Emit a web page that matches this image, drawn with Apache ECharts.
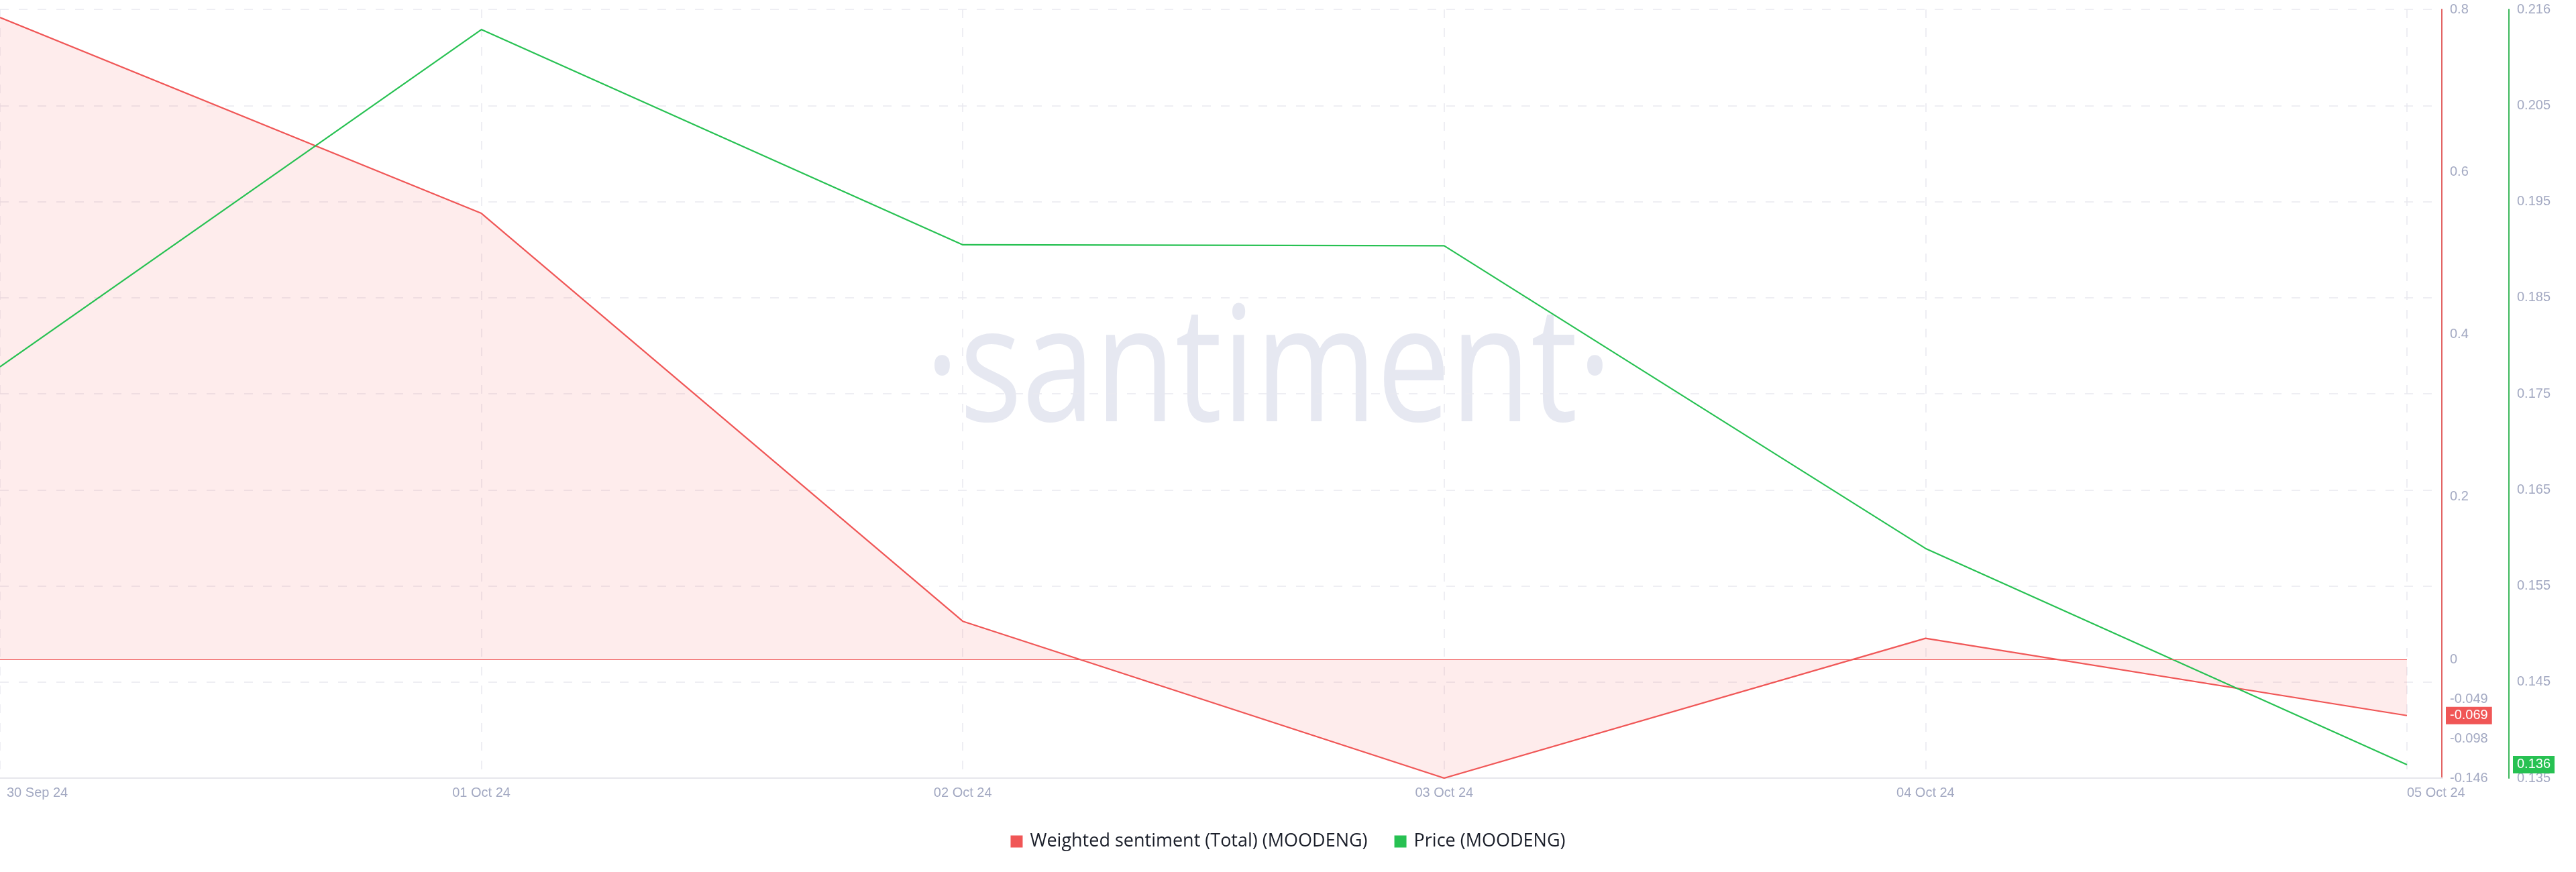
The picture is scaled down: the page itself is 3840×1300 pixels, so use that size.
<!DOCTYPE html>
<html>
<head>
<meta charset="utf-8">
<script src="https://cdn.jsdelivr.net/npm/echarts@6/dist/echarts.min.js"></script>
<style>
  html, body { margin: 0; padding: 0; background: #ffffff; }
  #chart { width: 3840px; height: 1300px; }
</style>
</head>
<body>
<div id="chart"></div>
<script>
const dates = ['30 Sep 24', '01 Oct 24', '02 Oct 24', '03 Oct 24', '04 Oct 24', '05 Oct 24'];
const sentiment = [0.79, 0.549, 0.047, -0.146, 0.026, -0.069];
const price = [0.1778, 0.2129, 0.1905, 0.1904, 0.1589, 0.1364];
const sentimentTicks = [-0.146, -0.098, -0.049, 0, 0.2, 0.4, 0.6, 0.8];
const priceTicks = [0.135, 0.145, 0.155, 0.165, 0.175, 0.185, 0.195, 0.205, 0.215];
const priceTickLabels = ['0.135', '0.145', '0.155', '0.165', '0.175', '0.185', '0.195', '0.205', '0.216'];
const seriesNames = ['Weighted sentiment (Total) (MOODENG)', 'Price (MOODENG)'];

const RED = '#f05656';
const GREEN = '#27c152';
const LABEL = '#a3a9c2';
const FONT = '"Liberation Sans", Arial, sans-serif';

const chart = echarts.init(document.getElementById('chart'), null, { renderer: 'canvas' });

const xIdx = dates.map((d, i) => i);
const sentData = sentiment.map((v, i) => [xIdx[i], v]);
const priceData = price.map((v, i) => [xIdx[i], v]);
const last = dates.length - 1;

chart.setOption({
  animation: false,
  backgroundColor: '#ffffff',
  graphic: [{
    type: 'text',
    x: 1891,
    y: 560,
    scaleX: 0.815,
    silent: true,
    z: -10,
    style: {
      text: '·santiment·',
      font: '500 240px "Open Sans"',
      fill: '#e6e8f1',
      align: 'center',
      verticalAlign: 'middle'
    }
  }],
  legend: {
    data: seriesNames,
    left: 'center',
    top: 1236,
    icon: 'rect',
    itemWidth: 18,
    itemHeight: 18,
    itemGap: 40,
    textStyle: { fontSize: 27, color: '#1b1f2a', fontFamily: '"Open Sans"', padding: [0, 0, 0, 6] }
  },
  grid: {
    left: 0, right: 200, top: 14, bottom: 140,
    containLabel: false,
    outerBoundsMode: 'none'
  },
  xAxis: {
    type: 'value',
    min: 0,
    max: 5.0725,
    axisLine: { show: true, onZero: false, lineStyle: { color: '#e6e6ec', width: 2 } },
    axisTick: { show: false, customValues: xIdx },
    splitLine: { show: true, lineStyle: { color: '#e9e9ef', width: 1.5, type: [13, 15] } },
    axisLabel: {
      customValues: xIdx,
      color: LABEL,
      fontSize: 20,
      fontFamily: FONT,
      margin: 12,
      alignMinLabel: 'left',
      alignMaxLabel: 'left',
      formatter: function (v) {
        const i = Math.round(v);
        return i === 0 ? '{first|' + dates[i] + '}' : dates[i];
      },
      rich: {
        first: { padding: [0, 0, 0, 10], color: LABEL, fontSize: 20, fontFamily: FONT }
      }
    }
  },
  yAxis: [{
    type: 'value',
    position: 'right',
    offset: 0,
    min: sentimentTicks[0],
    max: sentimentTicks[sentimentTicks.length - 1],
    axisLine: { show: true, onZero: false, lineStyle: { color: '#e36464', width: 2 } },
    axisTick: { show: false, customValues: sentimentTicks },
    splitLine: { show: false },
    axisLabel: {
      customValues: sentimentTicks,
      color: LABEL, fontSize: 20, fontFamily: FONT, margin: 12,
      formatter: function (v) { return String(v); }
    },
    axisPointer: {
      show: true,
      type: 'none',
      status: 'show',
      value: sentiment[last],
      triggerTooltip: false,
      label: {
        show: true,
        margin: 6,
        backgroundColor: RED,
        color: '#ffffff',
        fontSize: 20,
        fontFamily: FONT,
        padding: [3, 6, 3, 6],
        borderRadius: 0,
        formatter: function (p) { return p.value.toFixed(3); }
      }
    }
  }, {
    type: 'value',
    position: 'right',
    offset: 100,
    min: priceTicks[0],
    max: priceTicks[priceTicks.length - 1],
    axisLine: { show: true, onZero: false, lineStyle: { color: '#3cb85c', width: 2 } },
    axisTick: { show: false, customValues: priceTicks },
    splitLine: { show: true, lineStyle: { color: '#e9e9ef', width: 1.5, type: [13, 15] } },
    axisLabel: {
      customValues: priceTicks,
      color: LABEL, fontSize: 20, fontFamily: FONT, margin: 12,
      formatter: function (v) {
        let k = 0, best = Infinity;
        priceTicks.forEach((t, i) => { const d = Math.abs(t - v); if (d < best) { best = d; k = i; } });
        return priceTickLabels[k];
      }
    },
    axisPointer: {
      show: true,
      type: 'none',
      status: 'show',
      value: price[last],
      triggerTooltip: false,
      label: {
        show: true,
        margin: 6,
        backgroundColor: GREEN,
        color: '#ffffff',
        fontSize: 20,
        fontFamily: FONT,
        padding: [3, 6, 3, 6],
        borderRadius: 0,
        formatter: function (p) { return p.value.toFixed(3); }
      }
    }
  }],
  series: [{
    name: seriesNames[0],
    type: 'line',
    yAxisIndex: 0,
    data: sentData,
    showSymbol: false,
    symbol: 'none',
    lineStyle: { color: RED, width: 2.2 },
    itemStyle: { color: RED },
    areaStyle: { color: 'rgba(245, 90, 90, 0.16)', origin: 0 },
    markLine: {
      silent: true,
      symbol: ['none', 'none'],
      label: { show: false },
      lineStyle: { color: RED, width: 1.2, type: 'solid' },
      data: [[{ coord: [xIdx[0], 0] }, { coord: [xIdx[last], 0] }]]
    },
    z: 2
  }, {
    name: seriesNames[1],
    type: 'line',
    yAxisIndex: 1,
    data: priceData,
    showSymbol: false,
    symbol: 'none',
    lineStyle: { color: GREEN, width: 2.2 },
    itemStyle: { color: GREEN },
    z: 3
  }]
});
</script>
</body>
</html>
